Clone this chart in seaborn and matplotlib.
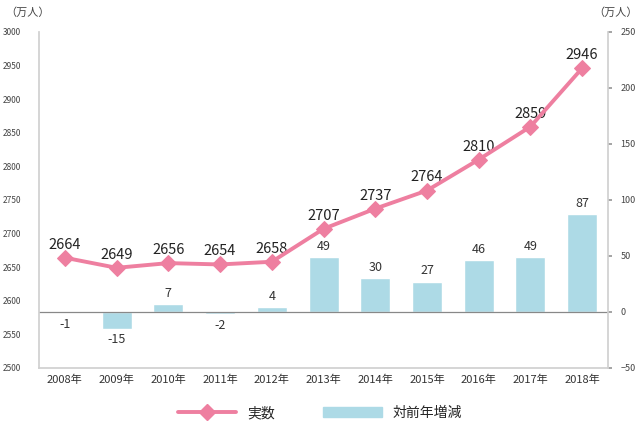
import matplotlib
matplotlib.use("Agg")
import matplotlib.pyplot as plt
import seaborn as sns
import pandas as pd
from matplotlib.lines import Line2D
from matplotlib.patches import Patch

years = ["2008年", "2009年", "2010年", "2011年", "2012年", "2013年",
         "2014年", "2015年", "2016年", "2017年", "2018年"]
actual = [2664, 2649, 2656, 2654, 2658, 2707, 2737, 2764, 2810, 2859, 2946]
change = [-1, -15, 7, -2, 4, 49, 30, 27, 46, 49, 87]
left_ticks = list(range(2500, 3001, 50))
right_ticks = list(range(-50, 251, 50))

df = pd.DataFrame({"year": years, "actual": actual, "change": change})

sns.set_theme(style="white")
plt.rcParams["font.family"] = ["Noto Sans CJK JP", "DejaVu Sans"]

line_c = "#EE7FA0"
bar_c = "#ADDAE6"
txt_c = "#333333"

fig = plt.figure(figsize=(6.4, 4.37), dpi=100)
ax = fig.add_axes([0.061, 0.158, 0.889, 0.769])
ax2 = ax.twinx()

# bars on right scale (ax)
sns.barplot(data=df, x="year", y="change", color=bar_c, width=0.58,
            saturation=1, ax=ax, zorder=2)
ax.set_ylim(-50, 250)
ax.set_yticks(right_ticks)
ax.axhline(0, color="#888888", lw=0.9, zorder=3)
ax.set_xlim(-0.5, len(years) - 0.5)
for i, v in enumerate(change):
    if v >= 0:
        ax.text(i, v + 4, str(v), ha="center", va="bottom", fontsize=9, color=txt_c)
    else:
        ax.text(i, v - 4, str(v), ha="center", va="top", fontsize=9, color=txt_c)

# line on left scale (ax2)
sns.lineplot(data=df, x="year", y="actual", color=line_c, lw=2.8, marker="D",
             markersize=8, markeredgecolor=line_c, ax=ax2, sort=False, zorder=4)
ax2.set_ylim(2500, 3000)
ax2.set_yticks(left_ticks)
for i, v in enumerate(actual):
    ax2.text(i, v + 9, str(v), ha="center", va="bottom", fontsize=10.5, color="#222222")

for a in (ax, ax2):
    a.set_xlabel("")
    a.set_ylabel("")
    for s in a.spines.values():
        s.set_visible(False)

# swap sides after twinx
ax.yaxis.tick_right()
ax.yaxis.set_label_position("right")
ax2.yaxis.tick_left()
ax2.yaxis.set_label_position("left")

ax2.spines["left"].set_visible(True)
ax2.spines["left"].set_color("#D0D0D0")
ax2.spines["bottom"].set_visible(True)
ax2.spines["bottom"].set_color("#D0D0D0")
ax2.spines["right"].set_visible(True)
ax2.spines["right"].set_color("#D0D0D0")

ax2.tick_params(axis="y", left=False, right=False, labelleft=True, labelright=False,
                labelsize=6, labelcolor="#444444", pad=7)
ax.tick_params(axis="y", left=False, labelleft=False, right=True, labelright=True,
               length=3, color="#999999", labelsize=6.5, labelcolor="#444444", pad=6)
ax.tick_params(axis="x", labelsize=8, colors="#333333", length=0, pad=5)
ax2.tick_params(axis="x", bottom=False, labelbottom=False)

fig.text(0.008, 0.972, "（万人）", fontsize=8, color="#444444", ha="left", va="center")
fig.text(0.997, 0.972, "（万人）", fontsize=8, color="#444444", ha="right", va="center")

handles = [Line2D([0], [0], color=line_c, lw=2.8, marker="D", markersize=8),
           Patch(facecolor=bar_c, edgecolor=bar_c)]
fig.legend(handles, ["実数", "対前年増減"], loc="center", bbox_to_anchor=(0.5, 0.055),
           ncol=2, frameon=False, fontsize=10, handlelength=4.2, columnspacing=3.5,
           handletextpad=0.8)

fig.savefig("out.png", dpi=100)
